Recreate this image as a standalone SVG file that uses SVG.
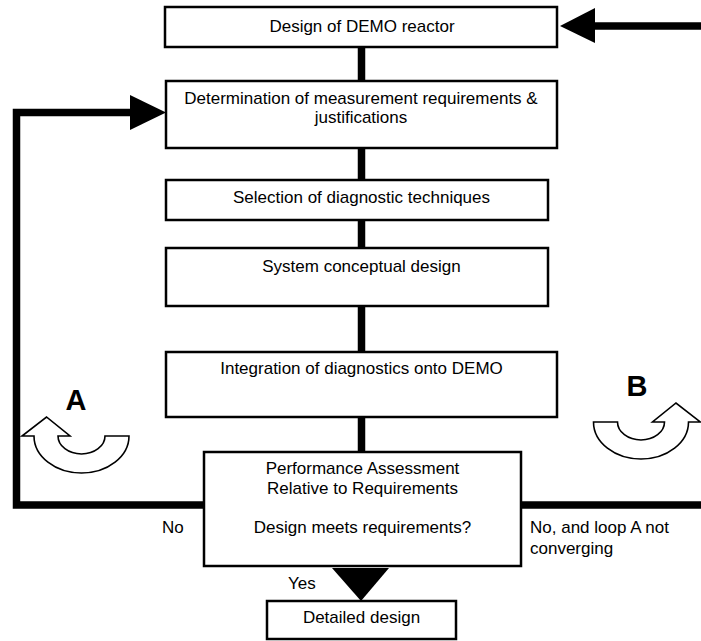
<svg xmlns="http://www.w3.org/2000/svg" width="701" height="641" viewBox="0 0 701 641">
<style>
.box{fill:#fff;stroke:#000;stroke-width:2.5}
.t{font-family:"Liberation Sans",Arial,sans-serif;font-size:17px;fill:#000}
.c{text-anchor:middle}
.big{font-family:"Liberation Sans",Arial,sans-serif;font-size:29px;font-weight:bold;text-anchor:middle}
.ln{fill:none;stroke:#000;stroke-width:7.5}
.uturn{fill:#fff;stroke:#000;stroke-width:1.6;stroke-linejoin:miter}
</style>
<defs>
<path id="u" d="M47.5,0 L23.5,0 A23.5,18 0 0 1 -23.5,0 L-11.5,0 L-35,-19 L-59.5,0 L-47.5,0 A47.5,37 0 0 0 47.5,0 Z"/>
</defs>
<g id="connectors">
<line class="ln" x1="361.5" y1="47" x2="361.5" y2="81"/>
<line class="ln" x1="361.5" y1="148" x2="361.5" y2="180"/>
<line class="ln" x1="361.5" y1="220" x2="361.5" y2="248"/>
<line class="ln" x1="361.5" y1="306" x2="361.5" y2="352"/>
<line class="ln" x1="361.5" y1="417" x2="361.5" y2="452"/>
<polyline class="ln" points="204,505 16.5,505 16.5,112.5 132,112.5"/>
<polygon points="130,95 166,112.5 130,130" fill="#000"/>
<line class="ln" x1="521" y1="505" x2="701" y2="505"/>
<line class="ln" x1="701" y1="26" x2="593" y2="26"/>
<polygon points="595,8 560,26 595,43" fill="#000"/>
<polygon points="332,568 389,568 361,601" fill="#000"/>
</g>
<g id="n1"><rect class="box" x="165" y="7" width="392" height="40"/><text class="t c" x="362" y="32">Design of DEMO reactor</text></g>
<g id="n2"><rect class="box" x="166" y="81" width="391" height="67"/><text class="t c" x="361" y="104">Determination of measurement requirements &amp;</text><text class="t c" x="361" y="123">justifications</text></g>
<g id="n3"><rect class="box" x="166" y="180" width="382" height="40"/><text class="t c" x="361.5" y="203">Selection of diagnostic techniques</text></g>
<g id="n4"><rect class="box" x="166" y="248" width="382" height="58"/><text class="t c" x="361.5" y="272">System conceptual design</text></g>
<g id="n5"><rect class="box" x="166" y="352" width="391" height="65"/><text class="t c" x="361.5" y="374">Integration of diagnostics onto DEMO</text></g>
<g id="n6"><rect class="box" x="204" y="452" width="317" height="114"/><text class="t c" x="362.5" y="474">Performance Assessment</text><text class="t c" x="362.5" y="494">Relative to Requirements</text><text class="t c" x="362.5" y="533">Design meets requirements?</text></g>
<g id="n7"><rect class="box" x="267" y="601" width="189" height="38"/><text class="t c" x="361.5" y="623">Detailed design</text></g>
<g id="labels">
<text class="t" x="162" y="533">No</text>
<text class="t" x="530" y="533">No, and loop A not</text>
<text class="t" x="530" y="554">converging</text>
<text class="t" x="288" y="589">Yes</text>
</g>
<g id="loopA"><use href="#u" class="uturn" transform="translate(81.5,436)"/><text class="big" x="76" y="410">A</text></g>
<g id="loopB"><use href="#u" class="uturn" transform="translate(641,422) scale(-1,1)"/><text class="big" x="637" y="396">B</text></g>
</svg>
